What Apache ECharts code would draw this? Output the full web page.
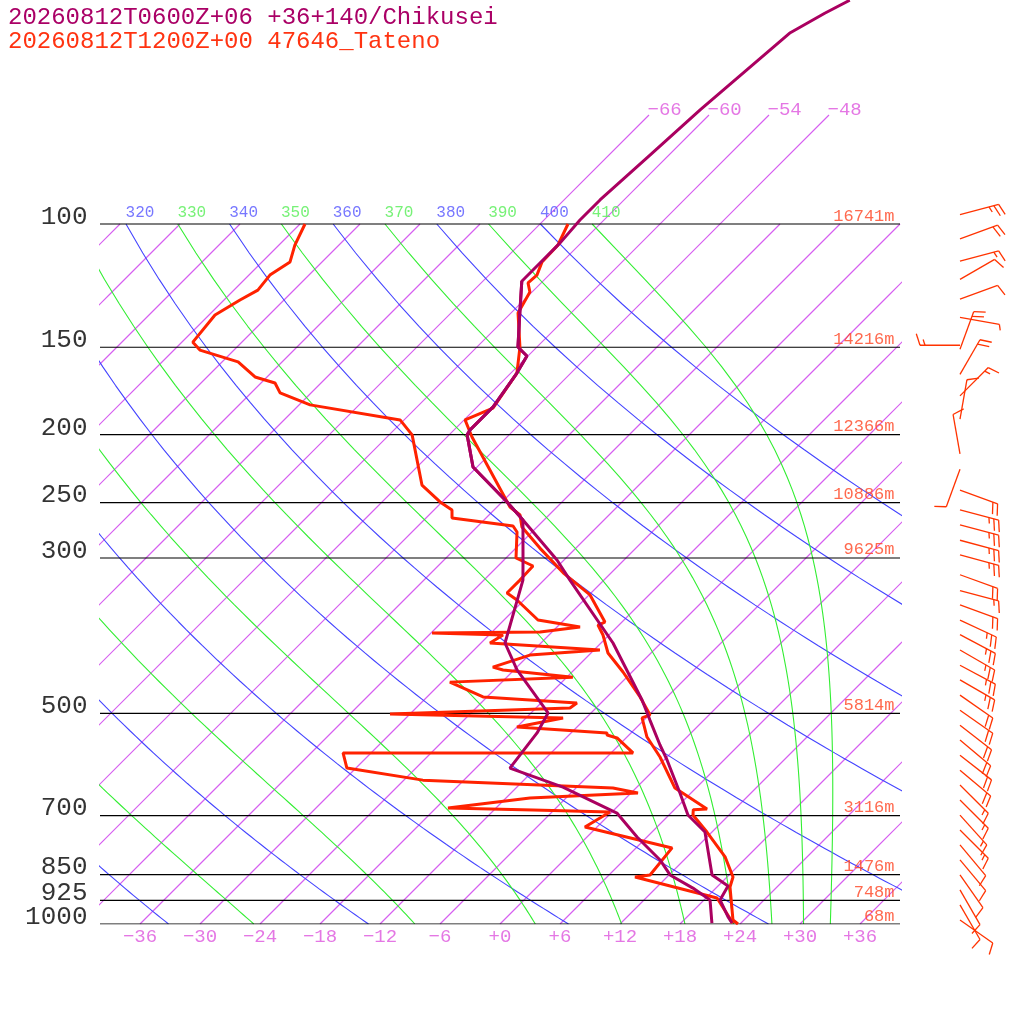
<!DOCTYPE html>
<html><head><meta charset="utf-8">
<script src="https://cdn.jsdelivr.net/npm/echarts@6/dist/echarts.min.js"></script>
<style>html,body{margin:0;padding:0;background:#fff}#c{width:1024px;height:1024px}</style>
</head><body><div id="c"></div>
<script>
// ---- data ----
const isobars = [100,150,200,250,300,500,700,850,925,1000];
const heightLevels = [100,150,200,250,300,500,700,850,925,1000];
const heightLabels = ['16741m','14216m','12366m','10886m','9625m','5814m','3116m','1476m','748m','68m'];
const tempTicks = [-36,-30,-24,-18,-12,-6,0,6,12,18,24,30,36];
const topIsoLabels = [-66,-60,-54,-48];
const dryThetas = [200,220,240,260,280,300,320,340,360,380,400];
const moistThetas = [230,250,270,290,310,330,350,370,390,410];
const dryLabels = [320,340,360,380,400];
const moistLabels = [330,350,370,390,410];

// forecast (Chikusei)
const fcP = [47.9,50,53.3,68.7,79.7,92.4,98.7,106.4,113.7,120.7,132.7,149.9,154.4,163.3,182.5,197,200.1,222.4,249.5,264.8,302,322.6,396.8,478.6,511.3,555,583,650,698.8,739,851,882.4,924,977,996.7];
const fcT = [-57.4,-58.6,-60.1,-61.4,-61.9,-62.4,-62.4,-62.1,-62.1,-62.1,-59.4,-55.9,-54.1,-53.4,-52.4,-52.4,-52.2,-48.4,-41.5,-38.1,-30.7,-27.4,-16.8,-8.2,-5.4,-1.9,0.3,4.9,7.9,11.3,16.3,19.0,19.6,22.1,23.1];
const fcDP = [120.7,132.7,149.9,154.4,163.3,182.5,197,200.1,222.4,249.5,264.8,300,322.6,396.8,433.6,499.5,533.4,598.8,637.4,694.3,751,810,851,888.6,924,997];
const fcTd = [-62.1,-59.4,-55.9,-54.1,-53.4,-52.4,-52.4,-52.2,-48.4,-41.5,-38.1,-34.3,-32.1,-27.6,-23.7,-16.3,-15.4,-14.6,-7.4,0.6,5.0,9.6,12.1,15.7,18.6,21.1];

// observed (Tateno 47646)
const obP = [100,107.2,113.3,118.3,121.4,125.1,134,149.9,163.3,183.2,190.5,201.5,253.7,260.4,271,290.4,315,338.8,370.4,374,386.5,410.1,436.5,473.8,502.7,507.7,540.6,577.3,639.4,685,686.6,698.8,739,802,856.7,885.4,987,1000];
const obT = [-63.2,-62.1,-62.0,-61.2,-61.3,-60.2,-59.3,-55.7,-53.4,-52.3,-53.9,-51.5,-40.7,-38.9,-37.5,-33.6,-28.8,-23.9,-19.7,-20.1,-18.6,-16.3,-12.9,-8.7,-5.9,-6.4,-4.0,-0.7,3.9,9.2,7.9,8.4,11.5,15.8,18.6,19.3,22.9,23.8];
const obDP = [100,107.2,113.3,118.3,124.3,128.4,134.9,147.5,151.4,157.4,165.4,168.7,174.3,181.3,190.5,200.1,236,249.5,256.2,263,270,275.4,300,308,322.6,336.6,344.5,367.9,376.4,382.6,383.9,386.5,396.8,406.2,412.9,429.6,433.6,444,451.3,473.8,483.5,491.4,501.2,507.7,523.2,533.4,537,542.3,569.7,569.7,598.8,623,639.4,650,660.7,682.8,687.3,691.8,727,778.6,851,856.7,918,997];
const obTd = [-89.5,-88.4,-87.2,-87.9,-87.6,-88.4,-89.4,-88.9,-87.4,-82.4,-79.2,-76.6,-75.1,-70.9,-60.4,-57.7,-51.7,-48.2,-46.2,-45.4,-38.5,-37.5,-35.0,-32.5,-32.4,-32.4,-30.7,-26.6,-21.7,-25.2,-35.9,-28.6,-29.1,-17.4,-23.9,-26.4,-25.1,-17.4,-29.2,-24.4,-14.4,-14.6,-32.0,-14.3,-18.0,-8.4,-8.2,-6.9,-3.8,-32.8,-30.9,-22.1,-2.3,0.7,-9.6,-16.8,-8.1,-0.2,-1.2,9.6,10.1,8.8,19.1,23.2];

// observed winds
const wP   = [97,105,113,120,128,136,149,151,164,176,190,213,224,240,256,269,283,297,317,334,350,368,386,406,427,448,471,495,520,546,574,603,633,665,699,734,771,810,851,894,939,987];
const wDir = [75,70,75,60,70,100,270,20,30,45,10,350,200,110,105,105,105,105,110,105,110,115,118,120,118,120,125,125,128,130,128,130,135,135,138,135,140,140,145,150,150,125];
const wSpd = [25,20,15,10,10,5,15,20,20,15,10,10,10,20,25,25,25,25,20,15,20,25,25,25,25,25,20,20,20,20,20,20,15,15,15,15,10,10,10,10,10,10];

// ---- helpers ----
const L = p => Math.log10(1000/p);
const sx = (T,p) => T + 70*L(p);
const pts = (P,T) => P.map((p,i)=>[sx(T[i],p), L(p)]);
const LTOP = 924/700;
const PISO = 1000/Math.pow(10,809/700);

function es(Tk){const t=Tk-273.15;return 6.112*Math.exp(17.67*t/(t+243.5));}
function moistCurve(theta){
  const Rd=287.04,cp=1005.7,Lv=2.501e6,eps=0.622;
  let T=theta*Math.pow(0.1,0.2857), p=100, out=[[sx(T-273.15,p),L(p)]];
  const f=(T,p)=>{const e=es(T),rs=eps*e/(p-e);return (Rd*T+Lv*rs)/(p*(cp+Lv*Lv*rs*eps/(Rd*T*T)));};
  const dp=2;
  while(p<1000){const k1=f(T,p),k2=f(T+k1*dp/2,p+dp/2);T+=k2*dp;p+=dp;if(Math.round(p)%10===0)out.push([sx(T-273.15,p),L(p)]);}
  return out;
}
function dryCurve(theta){const out=[];for(let p=100;p<=1000;p+=10)out.push([sx(theta*Math.pow(p/1000,0.2857)-273.15,p),L(p)]);return out;}

const MONO='Liberation Mono';
const series=[];
const bg=(data,color,w)=>({type:'line',data,symbol:'none',silent:true,clip:true,color:color,lineStyle:{color:color,width:w||1},animation:false,z:1});

// isotherms
const isoTemps=[];for(let T=-108;T<=36;T+=6)isoTemps.push(T);
isoTemps.forEach(T=>{
  const pTop=(T>=-66&&T<=-48)?PISO:100;
  const d=[];for(let i=0;i<=10;i++){const p=1000*Math.pow(pTop/1000,i/10);d.push([sx(T,p),L(p)]);}
  series.push(bg(d,'rgb(214,96,240)',1.2));
});
dryThetas.forEach(th=>series.push(bg(dryCurve(th),'#4444ff',1.1)));
moistThetas.forEach(th=>series.push(bg(moistCurve(th),'#33ee33',1.1)));
isobars.forEach(p=>series.push(Object.assign(bg([[-40,L(p)],[40,L(p)]],'#000000',1.2),{z:2})));

const lbl=(data,opt)=>({type:'scatter',data,symbolSize:1,itemStyle:{color:'rgba(0,0,0,0)'},silent:true,clip:false,animation:false,z:5,label:Object.assign({show:true,fontFamily:MONO},opt)});
series.push(lbl(tempTicks.map(t=>[t,0]),{position:'bottom',distance:3,fontSize:19,color:'#dd55dd',formatter:d=>{const v=d.value[0];return v>0?'+'+v:(v===0?'+0':String(v).replace('-','\u2212'));}}));
series.push(lbl(isobars.map(p=>[-40,L(p)]),{position:'left',distance:12,offset:[0,-7],fontSize:26,color:'#000',formatter:d=>String(Math.round(1000/Math.pow(10,d.value[1])))}));
series.push(lbl(heightLevels.map((p,i)=>({value:[40,L(p)],name:heightLabels[i]})),{position:'left',distance:5,offset:[0,-8],fontSize:17,color:'#ff4422',formatter:d=>d.name}));
series.push(lbl(topIsoLabels.map(t=>[sx(t,PISO),L(PISO)]),{position:'right',distance:-2,offset:[0,-5],fontSize:19,color:'#dd55dd',formatter:d=>String(Math.round(d.value[0]-70*d.value[1])).replace('-','\u2212')}));
series.push(lbl(dryLabels.map(th=>({value:[sx(th*Math.pow(0.1,0.2857)-273.15,100),1],name:String(th)})),{position:'top',distance:3,offset:[14,0],fontSize:16,color:'#5555ff',formatter:d=>d.name}));
series.push(lbl(moistLabels.map(th=>({value:[sx(th*Math.pow(0.1,0.2857)-273.15,100),1],name:String(th)})),{position:'top',distance:3,offset:[14,0],fontSize:16,color:'#55ee55',formatter:d=>d.name}));

const prof=(data,color)=>({type:'line',data,symbol:'none',clip:true,animation:false,z:10,color:color,lineStyle:{color,width:3}});
series.push(prof(pts(obP,obT),'#ff2200'));
series.push(prof(pts(obDP,obTd),'#ff2200'));
series.push(prof(pts(fcDP,fcTd),'#aa0060'));
series.push(prof(pts(fcP,fcT),'#aa0060'));

// wind barbs
series.push({type:'custom',xAxisIndex:1,yAxisIndex:1,animation:false,clip:false,z:10,
  data:wP.map((p,i)=>[0.25,L(p),wDir[i],wSpd[i]]),
  renderItem:(params,api)=>{
    const b=api.coord([api.value(0),api.value(1)]);const d=api.value(2)*Math.PI/180,s=api.value(3);
    const len=40,ux=Math.sin(d),uy=-Math.cos(d);
    const e=[b[0]+ux*len,b[1]+uy*len];
    const ch=[{type:'line',shape:{x1:b[0],y1:b[1],x2:e[0],y2:e[1]}}];
    const bx=Math.sin(d+Math.PI*0.4),by=-Math.cos(d+Math.PI*0.4);
    let n10=Math.floor(s/10),n5=(s%10)>=5?1:0,k=0;
    for(let i=0;i<n10;i++,k++){const px=e[0]-ux*k*5,py=e[1]-uy*k*5;ch.push({type:'line',shape:{x1:px,y1:py,x2:px+bx*12,y2:py+by*12}});}
    if(n5){const px=e[0]-ux*k*5,py=e[1]-uy*k*5;ch.push({type:'line',shape:{x1:px,y1:py,x2:px+bx*6,y2:py+by*6}});}
    return {type:'group',children:ch.map(c=>Object.assign(c,{style:{stroke:'#ff3300',lineWidth:1.3}}))};
  }});

const chart=echarts.init(document.getElementById('c'),null,{renderer:'canvas'});
chart.setOption({
  animation:false,backgroundColor:'#fff',
  grid:[{left:100,width:800,top:0,height:924},{left:940,width:80,top:0,height:924}],
  xAxis:[{type:'value',min:-40,max:40,show:false},{type:'value',gridIndex:1,min:0,max:1,show:false}],
  yAxis:[{type:'value',min:0,max:LTOP,show:false},{type:'value',gridIndex:1,min:0,max:LTOP,show:false}],
  graphic:[
    {type:'text',left:8,top:6,style:{text:'20260812T0600Z+06 +36+140/Chikusei',fill:'#aa0066',font:'24px "Liberation Mono"'}},
    {type:'text',left:8,top:30,style:{text:'20260812T1200Z+00 47646_Tateno',fill:'#ff3311',font:'24px "Liberation Mono"'}}
  ],
  series
});
</script></body></html>
